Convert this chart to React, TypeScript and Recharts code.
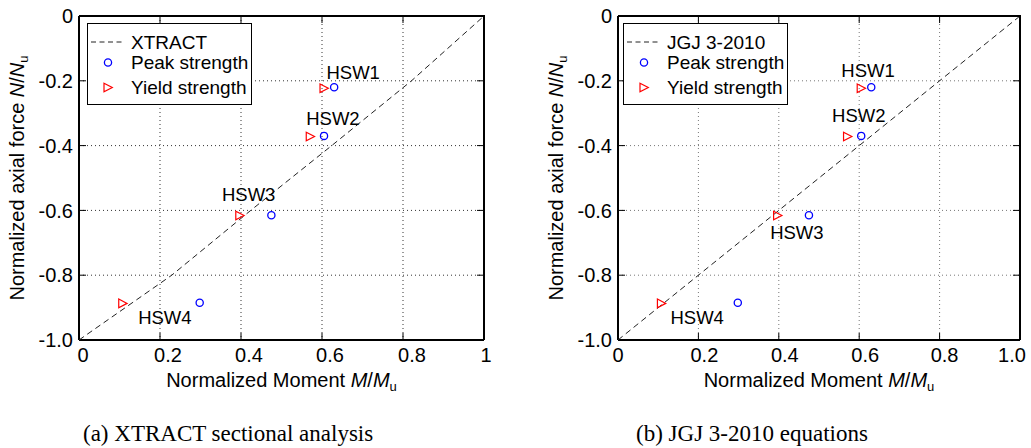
import { ScatterChart, Scatter, XAxis, YAxis, CartesianGrid } from "recharts";

const FONT = '"Liberation Sans", Arial, sans-serif';

const xTicks = [0, 0.2, 0.4, 0.6, 0.8, 1];
const yTicks = [-1, -0.8, -0.6, -0.4, -0.2, 0];
const xTickTextA = ["0", "0.2", "0.4", "0.6", "0.8", "1"];
const xTickTextB = ["0", "0.2", "0.4", "0.6", "0.8", "1.0"];
const yTickText = ["-1.0", "-0.8", "-0.6", "-0.4", "-0.2", "0"];

const specimens = ["HSW1", "HSW2", "HSW3", "HSW4"];
const peakM = [0.63, 0.605, 0.475, 0.298];
const peakN = [-0.22, -0.37, -0.615, -0.885];
const yieldM = [0.605, 0.571, 0.397, 0.108];
const yieldN = [-0.223, -0.372, -0.616, -0.887];

// design curves
const xtractM = [0, 0.229, 0.424, 0.624, 0.821, 1];
const xtractN = [-1, -0.8, -0.6, -0.4, -0.2, 0];
const jgjM = [0, 1];
const jgjN = [-1, 0];

// where the specimen names sit in each panel
const labelAM = [0.677, 0.627, 0.419, 0.212];
const labelAN = [-0.175, -0.316, -0.55, -0.932];
const labelBM = [0.622, 0.599, 0.445, 0.197];
const labelBN = [-0.167, -0.308, -0.667, -0.93];

// small horizontal nudges of the x tick labels, as in the original figure
const xTickNudgeA = [4, 8, 8, 8, 9, 2];
const xTickNudgeB = [0, 6, 6, 6, 5, -8];

const pts = (ms: number[], ns: number[]) => ms.map((m, i) => ({ m, n: ns[i] }));

const peakData = pts(peakM, peakN);
const yieldData = pts(yieldM, yieldN);

const CHART_H = 400;
const MARGIN_TOP = 16;
const MARGIN_BOTTOM = 10;
const MARGIN_LEFT = 19;
const X_AXIS_H = 50;
const Y_AXIS_W = 60;
const PLOT_H = CHART_H - MARGIN_TOP - MARGIN_BOTTOM - X_AXIS_H;
const TICK_LEN = 7;
const X_TICK_GAP = 15;
const Y_TICK_GAP = 13;

const AXIS = { stroke: "#000", strokeWidth: 2 };
const TICK = { stroke: "#000", strokeWidth: 1 };

const Circ = (p: any) => (
  <circle cx={p.cx} cy={p.cy} r={3.6} fill="none" stroke="#0000ff" strokeWidth={1.3} />
);

const Tri = (p: any) => (
  <polygon
    points={`${p.cx - 4},${p.cy - 4.3} ${p.cx + 4.3},${p.cy} ${p.cx - 4},${p.cy + 4.3}`}
    fill="none"
    stroke="#ff0000"
    strokeWidth={1.2}
  />
);

const NameText = (p: any) => (
  <text
    x={p.cx}
    y={p.cy}
    textAnchor="middle"
    dominantBaseline="central"
    fontSize={18.5}
    fill="#000"
    fontFamily={FONT}
  >
    {p.payload.text}
  </text>
);

const NoShape = () => <g />;

const XTitle = (props: any) => {
  const vb = props.viewBox || { x: 0, y: 0, width: 0 };
  return (
    <text
      x={vb.x + vb.width / 2}
      y={vb.y + 47}
      textAnchor="middle"
      fontSize={20}
      fill="#000"
      fontFamily={FONT}
    >
      Normalized Moment <tspan fontStyle="italic">M</tspan>/<tspan fontStyle="italic">M</tspan>
      <tspan fontSize={13} dy={4}>u</tspan>
    </text>
  );
};

const YTitle = (props: any) => {
  const vb = props.viewBox || { x: 0, y: 0, height: 0 };
  const x = vb.x + 5;
  const cy = vb.y + vb.height / 2;
  return (
    <text
      x={x}
      y={cy}
      transform={`rotate(-90 ${x} ${cy})`}
      textAnchor="middle"
      fontSize={20}
      fill="#000"
      fontFamily={FONT}
    >
      Normalized axial force <tspan fontStyle="italic">N</tspan>/<tspan fontStyle="italic">N</tspan>
      <tspan fontSize={13} dy={4}>u</tspan>
    </text>
  );
};

// x tick: label below, plus the inward tick on the top side of the box
const makeXTick = (labels: string[], nudge: number[]) => (props: any) => {
  const i = props.index;
  const x = Number(props.x);
  const y = Number(props.y);
  const topY = y + TICK_LEN - X_TICK_GAP - PLOT_H;
  return (
    <g>
      <line x1={x} x2={x} y1={topY} y2={topY + TICK_LEN} stroke="#000" strokeWidth={1} />
      <text
        x={x + nudge[i]}
        y={y}
        dy="0.71em"
        textAnchor="middle"
        fontSize={20}
        fill="#000"
        fontFamily={FONT}
      >
        {labels[i]}
      </text>
    </g>
  );
};

// y tick: label on the left, plus the inward tick on the right side of the box
const makeYTick = (plotW: number) => (props: any) => {
  const i = props.index;
  const x = Number(props.x);
  const y = Number(props.y);
  const rightX = x - TICK_LEN + Y_TICK_GAP + plotW;
  return (
    <g>
      <line x1={rightX - TICK_LEN} x2={rightX} y1={y} y2={y} stroke="#000" strokeWidth={1} />
      <text
        x={x}
        y={y}
        dy="0.355em"
        textAnchor="end"
        fontSize={20}
        fill="#000"
        fontFamily={FONT}
      >
        {yTickText[i]}
      </text>
    </g>
  );
};

function LegendBox({ left, name }: { left: number; name: string }) {
  return (
    <div
      style={{
        position: "absolute",
        left,
        top: 23,
        width: 165,
        height: 82,
        border: "1px solid #000",
        background: "#fff",
        boxSizing: "border-box",
      }}
    >
      <svg width={163} height={80} style={{ display: "block", fontFamily: FONT }}>
        <line x1={3} x2={36} y1={18} y2={18} stroke="#222" strokeDasharray="5 3.5" />
        <text x={43} y={18} dominantBaseline="central" fontSize={19} fill="#000">
          {name}
        </text>
        <Circ cx={20} cy={38.5} />
        <text x={43} y={38.5} dominantBaseline="central" fontSize={19} fill="#000">
          Peak strength
        </text>
        <Tri cx={20} cy={63.5} />
        <text x={43} y={63.5} dominantBaseline="central" fontSize={19} fill="#000">
          Yield strength
        </text>
      </svg>
    </div>
  );
}

interface PanelProps {
  left: number;
  width: number;
  marginRight: number;
  xTickText: string[];
  xTickNudge: number[];
  lineM: number[];
  lineN: number[];
  labelM: number[];
  labelN: number[];
  name: string;
  legendLeft: number;
  gridColor: string;
}

function Panel(p: PanelProps) {
  const lineData = pts(p.lineM, p.lineN);
  const nameData = p.labelM.map((m, i) => ({ m, n: p.labelN[i], text: specimens[i] }));
  const plotW = p.width - p.marginRight - MARGIN_LEFT - Y_AXIS_W;
  return (
    <div style={{ position: "absolute", left: p.left, top: 0 }}>
      <ScatterChart
        width={p.width}
        height={CHART_H}
        margin={{ top: MARGIN_TOP, right: p.marginRight, bottom: MARGIN_BOTTOM, left: MARGIN_LEFT }}
        style={{ fontFamily: FONT }}
      >
        <CartesianGrid stroke={p.gridColor} strokeDasharray="1 3" />
        <XAxis
          type="number"
          dataKey="m"
          domain={[0, 1]}
          ticks={xTicks}
          height={X_AXIS_H}
          tickSize={-TICK_LEN}
          tickMargin={X_TICK_GAP}
          axisLine={AXIS}
          tickLine={TICK}
          tick={makeXTick(p.xTickText, p.xTickNudge)}
          label={{ content: XTitle }}
        />
        <YAxis
          type="number"
          dataKey="n"
          domain={[-1, 0]}
          ticks={yTicks}
          width={Y_AXIS_W}
          tickSize={-TICK_LEN}
          tickMargin={Y_TICK_GAP}
          axisLine={AXIS}
          tickLine={TICK}
          tick={makeYTick(plotW)}
          label={{ content: YTitle }}
        />
        <Scatter
          data={lineData}
          line={{ stroke: "#222", strokeWidth: 1, strokeDasharray: "6 4" }}
          shape={NoShape}
          isAnimationActive={false}
        />
        <Scatter data={yieldData} shape={Tri} isAnimationActive={false} />
        <Scatter data={peakData} shape={Circ} isAnimationActive={false} />
        <Scatter data={nameData} shape={NameText} isAnimationActive={false} />
      </ScatterChart>
      {/* top and right sides of the box */}
      <div
        style={{
          position: "absolute",
          left: MARGIN_LEFT + Y_AXIS_W,
          top: MARGIN_TOP - 1,
          width: plotW + 1,
          height: PLOT_H + 1,
          borderTop: "2px solid #000",
          borderRight: "2px solid #000",
          boxSizing: "border-box",
          pointerEvents: "none",
        }}
      />
      <LegendBox left={p.legendLeft} name={p.name} />
    </div>
  );
}

const captionStyle = {
  position: "absolute" as const,
  top: 422,
  fontFamily: '"Liberation Serif", "Times New Roman", serif',
  fontSize: 23,
  lineHeight: "23px",
  whiteSpace: "nowrap" as const,
  color: "#000",
};

export default function App() {
  return (
    <div
      style={{
        position: "absolute",
        left: 0,
        top: 0,
        width: 1031,
        height: 448,
        background: "#fff",
        overflow: "hidden",
      }}
    >
      <Panel
        left={0}
        width={520}
        marginRight={36}
        xTickText={xTickTextA}
        xTickNudge={xTickNudgeA}
        lineM={xtractM}
        lineN={xtractN}
        labelM={labelAM}
        labelN={labelAN}
        name="XTRACT"
        legendLeft={87}
        gridColor="#333"
      />
      <Panel
        left={539}
        width={492}
        marginRight={11}
        xTickText={xTickTextB}
        xTickNudge={xTickNudgeB}
        lineM={jgjM}
        lineN={jgjN}
        labelM={labelBM}
        labelN={labelBN}
        name="JGJ 3-2010"
        legendLeft={84}
        gridColor="#777"
      />
      <div style={{ ...captionStyle, left: 83 }}>(a) XTRACT sectional analysis</div>
      <div style={{ ...captionStyle, left: 636 }}>(b) JGJ 3-2010 equations</div>
    </div>
  );
}
